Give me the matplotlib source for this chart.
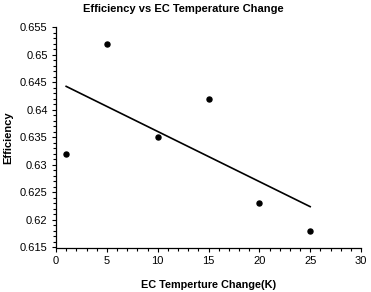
import numpy as np
import matplotlib
matplotlib.use("Agg")
import matplotlib.pyplot as plt
from matplotlib.ticker import MultipleLocator

plt.rcParams['font.family'] = ['Liberation Sans', 'DejaVu Sans']

# data
temp_change = [1, 5, 10, 15, 20, 25]
efficiency = [0.632, 0.652, 0.635, 0.642, 0.623, 0.618]
y_labels = ['0.615', '0.62', '0.625', '0.63', '0.635', '0.64', '0.645', '0.65', '0.655']

fig = plt.figure(figsize=(3.71, 2.92), dpi=100)
ax = fig.add_axes([56 / 371, 1 - 247.5 / 292, 305 / 371, 220 / 292])

ax.scatter(temp_change, efficiency, s=13, color='black', zorder=3)

# linear trend line
slope, intercept = np.polyfit(temp_change, efficiency, 1)
xs = np.array([min(temp_change), max(temp_change)])
ax.plot(xs, slope * xs + intercept, color='black', lw=1.2)

ax.set_xlim(0, 30)
ax.set_ylim(0.615, 0.655)
ax.xaxis.set_major_locator(MultipleLocator(5))
ax.xaxis.set_minor_locator(MultipleLocator(1))
ax.yaxis.set_minor_locator(MultipleLocator(0.001))
ax.set_yticks(np.linspace(0.615, 0.655, len(y_labels)))
ax.set_yticklabels(y_labels)

ax.tick_params(which='major', direction='out', length=3, width=0.8, labelsize=8, pad=3)
ax.tick_params(which='minor', direction='out', length=2, width=0.8)
ax.spines['top'].set_visible(False)
ax.spines['right'].set_visible(False)
ax.spines['left'].set_linewidth(0.9)
ax.spines['bottom'].set_linewidth(0.9)

fig.text(183.5 / 371, 1 - 8.5 / 292, 'Efficiency vs EC Temperature Change',
         fontsize=8, fontweight='bold', ha='center', va='center')
ax.set_xlabel('EC Temperture Change(K)', fontsize=7.8, fontweight='bold', va='center')
ax.xaxis.set_label_coords((209 - 56) / 305, -(285 - 247.5) / 220)
ax.set_ylabel('Efficiency', fontsize=8, fontweight='bold', va='center')
ax.yaxis.set_label_coords(-(56 - 8.5) / 305, 0.5)

fig.savefig('out.png', dpi=100)
